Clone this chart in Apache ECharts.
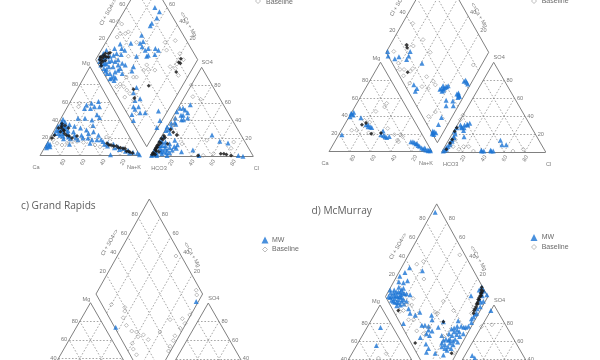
<!DOCTYPE html>
<html><head><meta charset="utf-8">
<style>html,body{margin:0;padding:0;background:#fff}#c{width:600px;height:360px;filter:blur(0.45px)}</style>
<script src="https://cdn.jsdelivr.net/npm/echarts@6/dist/echarts.min.js"></script>
</head><body><div id="c"></div>
<script>
// ---- values: percentages ----
// cation triangle [Na+K %, Mg %], anion triangle [Cl %, SO4 %], diamond [Cl+SO4 %, Ca+Mg %]
const tickValues=[20,40,60,80];
const a_cat_mw=[[18,57],[22,59],[28,61],[24,53],[18,53],[27,55],[32,55],[17,42],[24,42],[32,40],[34,46],[38,43],[3,11],[3.5,13],[1,11],[5,10],[2.5,41],[6,38],[3,36],[1.5,33],[6.5,33],[10,33],[2,29],[8,28],[14,28],[2.5,25],[8.5,23],[5,30],[10,25],[12,35],[18,33],[25,31],[32,29],[40,27],[18,21],[23,23],[30,23],[36,25],[36,34],[47,23],[55,16],[61,14],[67,13],[73,10],[79,8],[85,6],[91,4],[96,3],[99,1],[70,1],[23,13],[29,18],[43,14],[52,18],[58,13],[3,38],[5,35],[8,31],[11,30],[4,28],[6,25],[12,22],[15,25],[20,27],[14,19],[17,23],[21,19],[26,20],[33,20],[38,20],[43,18],[48,18],[62,11],[70,9],[76,7],[83,5],[88,3],[1,14],[2,9]];
const a_cat_base=[[10,59],[11,55],[10,14],[16,12],[20,14],[29,16],[36,15],[49,12],[55,10],[4,18],[1,21],[24,16],[34,33],[56,21],[68,10]];
const a_cat_dense=[[3,31],[4,36],[13,31],[12,25],[2,20],[26,22],[60,14],[71,11],[81,8],[88,4],[7,27],[3,23],[65,12],[76,9],[84,5],[8,34],[5,33],[9,29],[6,31],[10,28],[15,23],[18,22],[22,20],[63,12],[68,11],[74,9],[79,8],[86,5],[91,3]];
const a_an_mw=[[1,1],[6,1],[10,3],[16,1],[1,7],[5,9],[13,7],[18,7],[21,9],[28,5],[9,12],[12,14],[15,18],[1,18],[2,22],[6,26],[0,33],[2,37],[3,43],[1,50],[2,54],[5,54],[10,58],[9,46],[15,43],[10,41],[12,41],[48,24],[59,17],[68,15],[38,7],[47,1],[85,1],[90,0],[3,3],[8,5],[4,12],[7,16],[2,2],[3,5],[5,3],[8,7],[11,5],[14,4],[17,4],[4,16],[2,12],[6,12],[10,9],[1,29],[3,30],[4,33],[5,38],[7,36],[7,46],[12,49],[8,52],[14,10],[18,11],[20,13]];
const a_an_base=[[8,67],[17,64],[0,80],[3,42],[46,18],[73,16],[74,9],[60,3],[51,1],[14,24],[5,35],[24,14]];
const a_an_dense=[[2,3],[3,6],[1,10],[2,13],[1,16],[3,19],[4,2],[6,5],[14,24],[5,30],[46,1],[70,3],[67,3],[73,2],[78,1],[10,14],[1,2],[1,4],[2,7],[1,8],[2,10],[1,12],[3,15],[1,20],[2,23],[4,21],[9,27]];
const a_dia_mw=[[5,97],[11,96],[16,95],[3,95],[7,89],[16,88],[25,88],[33,85],[32,81],[34,77],[44,75],[24,83],[18,80],[19,75],[13,79],[3,87],[3,81],[3,75],[12,74],[19,71],[33,59],[29,58],[42,62],[53,66],[57,64],[53,62],[54,57],[58,55],[59,69],[65,48],[54,51],[61,45],[52,52],[67,44],[18,44],[15,38],[24,44],[21,34],[10,36],[15,31],[10,33],[13,26],[4,33],[18,21],[32,9],[28,2],[21,1],[2,28],[88,72],[90,65],[84,64],[76,66],[73,66],[10,93],[13,90],[8,92],[20,85],[28,78],[22,78],[16,72],[9,83],[6,78],[24,72],[26,68],[18,66],[2,92],[5,90],[3,84],[5,84],[8,87],[12,86],[15,84],[5,74],[8,73],[6,70],[9,70]];
const a_dia_base=[[46,95],[39,91],[44,86],[48,84],[34,92],[44,100],[27,53],[20,60],[12,57],[10,62],[5,64],[13,52],[14,47],[7,50],[14,40],[9,29],[41,47],[46,43],[52,36],[47,47],[75,36],[89,33],[78,42],[86,21],[77,18],[73,17],[72,10],[69,23],[86,14],[50,70],[34,70],[30,50]];
const a_dia_dense=[[12,91],[4,96],[8,94],[16,91],[11,93],[6,92],[81,15],[72,14],[37,33],[20,46],[16,40],[84,17],[80,17],[3,93],[5,94],[7,96],[9,90],[13,94],[18,90],[14,89],[2,91],[10,95],[6,97]];
const b_cat_mw=[[1,42],[3,41],[1,39],[12,38],[3,19],[21,30],[26,28],[28,27],[41,23],[41,19],[46,17],[50,17],[74,11],[78,10],[83,7],[88,4],[91,4],[95,2],[98,1],[81,9],[93,2],[0,43],[2,44],[76,11],[80,9],[85,6],[90,3],[96,1],[97,2],[23,30],[24,28],[44,18],[48,16]];
const b_cat_base=[[23,45],[10,24],[17,35],[23,33],[29,54],[29,50],[15,24],[28,21],[33,20],[54,19],[60,13],[63,17],[44,26],[60,19],[62,11]];
const b_cat_dense=[[17,30],[20,32],[31,20],[40,21]];
const b_an_mw=[[1,1],[3,3],[3,6],[3,10],[3,14],[3,17],[1,23],[1,27],[5,28],[7,30],[11,32],[9,24],[13,17],[3,30],[9,31],[38,1],[47,1],[50,13],[54,8],[58,8],[2,2],[2,5],[4,8],[4,12],[4,16],[3,20],[6,27],[8,27],[10,30],[46,2],[49,1],[37,2],[40,1]];
const b_an_base=[[0,36],[0,41],[6,14],[18,6],[15,3],[23,6],[30,1],[77,3],[68,1],[8,6]];
const b_an_dense=[[1,27],[1,23],[3,14],[3,10],[3,3]];
const b_dia_mw=[[2,99],[0,96],[5,88],[10,85],[24,77],[20,76],[16,76],[29,59],[9,55],[10,50],[7,50],[34,26],[38,23],[42,21],[35,23],[62,7],[62,3],[47,6],[47,4],[32,15],[29,12],[38,8],[36,5],[18,10],[11,9],[1,10],[4,7],[0,10],[36,24],[37,26],[40,22],[33,24],[32,27],[62,5],[60,8],[47,5],[48,7],[46,8],[45,5],[1,8],[3,9],[2,11]];
const b_dia_base=[[42,90],[24,84],[30,77],[43,71],[8,93],[6,82],[4,77],[13,66],[4,70],[26,47],[30,38],[30,34],[16,46],[21,39],[6,60],[43,57],[78,8],[15,19],[6,23],[17,65],[8,73]];
const b_dia_dense=[[24,84],[23,82],[10,68]];
const c_dia_mw=[[90,2],[1,64]];
const c_dia_base=[[95,45],[96,8],[94,5],[9,80],[20,66],[13,62],[12,55],[14,47],[18,42],[17,38],[23,34],[25,27],[8,40],[6,36],[6,30],[40,20],[56,17],[68,6],[77,1],[68,1],[61,3],[52,4],[42,3],[48,3],[38,2],[18,64]];
const d_dia_mw=[[94,97],[39,92],[32,94],[25,97],[50,78],[21,95],[25,90],[30,87],[8,99],[3,97],[10,94],[15,90],[22,87],[8,90],[14,86],[22,81],[25,77],[4,92],[9,84],[16,81],[16,71],[19,61],[25,58],[15,67],[3,68],[35,45],[33,42],[20,49],[23,46],[26,42],[35,32],[43,30],[58,16],[47,18],[52,12],[51,6],[45,9],[56,4],[65,3],[70,2],[80,2],[87,2],[93,2],[100,2],[99,11],[99,7],[84,17],[12,44],[14,35],[14,30],[30,20],[32,16],[38,12],[31,11],[18,21],[10,30],[25,12],[12,95],[18,92],[6,94],[11,90],[19,85],[13,82],[17,88],[6,88],[49,10],[58,10],[38,15],[33,20],[36,8],[34,24],[36,18],[40,14],[42,10],[44,14],[48,14],[50,16],[53,9],[54,14],[42,18],[30,14],[28,18],[34,12],[40,8],[46,5],[60,7],[62,5],[22,36],[24,40],[20,40],[27,36],[4,95],[7,97],[9,92],[12,88],[15,84],[19,88],[5,90],[8,86],[11,86],[13,92],[16,86],[20,83],[6,84],[10,81],[14,78],[18,77],[72,4],[75,3],[78,3],[83,4],[90,4],[95,6],[96,9],[95,12],[90,7]];
const d_dia_base=[[48,87],[56,82],[47,72],[95,50],[26,72],[16,75],[10,75],[15,60],[54,41],[40,43],[59,26],[12,51],[17,43],[35,22],[42,40],[80,8],[75,7],[10,65],[6,78],[21,70],[26,41],[36,3]];
const d_dia_dense=[[99,11],[98,8],[93,8],[85,7],[83,6],[77,5],[89,8],[5,80],[4,46],[34,5],[43,30],[97,10],[96,8],[94,7],[91,8],[90,7],[87,7],[86,6],[81,6],[79,6],[95,9]];
const d_cat_mw=[[13,75],[19,55]];
const d_cat_base=[[33,46],[28,41]];
const d_an_mw=[[0,94],[7,44],[11,41]];
const d_an_base=[[9,78],[0,76]];
const legendNames=['MW','Baseline'];
const panelTitles=['c) Grand Rapids','d) McMurray'];

// ---- layout of each Piper plot, in the hidden axes' units ----
const P={
 a:{cat:[40,155.7,100,89],an:[150,156.3,103.3,89],dia:[146.7,146.7,51,87]},
 b:{cat:[329,151.7,103,89.5],an:[441.7,152,104,89.7],dia:[437.4,142.7,51.3,90.4]},
 c:{cat:[37,395.7,107,93],an:[154.8,396,107,93],dia:[149.3,389,53.3,95]},
 d:{cat:[328,395,104,90],an:[442,395,104,90],dia:[436.7,389.3,51.2,92.7]}
};
const triXY=(g,p)=>[g[0]+g[2]*(p[0]+p[1]/2)/100,g[1]-g[3]*p[1]/100];
const diaXY=(g,p)=>[g[0]+g[2]*(p[0]-p[1])/100,g[1]-g[3]*(p[0]+p[1])/100];
const seg=(m,s,e)=>({coords:[m(s),m(e)]});
const solid=[],dashed=[],texts=[];
const T=(x,y,s,o)=>texts.push(Object.assign({value:[x,y],t:s},o||{}));
Object.values(P).forEach(p=>{
 [p.cat,p.an].forEach(g=>{
  const m=v=>triXY(g,v);
  solid.push(seg(m,[0,0],[100,0]),seg(m,[100,0],[0,100]),seg(m,[0,100],[0,0]));
  tickValues.forEach(v=>{dashed.push(seg(m,[0,v],[100-v,v]),seg(m,[v,0],[v,100-v]),seg(m,[v,0],[0,v]));});
 });
 const m=v=>diaXY(p.dia,v);
 solid.push(seg(m,[0,0],[100,0]),seg(m,[100,0],[100,100]),seg(m,[100,100],[0,100]),seg(m,[0,100],[0,0]));
 tickValues.forEach(v=>{dashed.push(seg(m,[v,0],[v,100]),seg(m,[0,v],[100,v]));});
 tickValues.forEach(v=>{
  let q=triXY(p.cat,[0,v]);T(q[0]-5,q[1],String(v));
  q=triXY(p.cat,[v,0]);T(q[0]+3,q[1]+6.5,String(100-v),{rot:60});
  q=triXY(p.an,[100-v,v]);T(q[0]+5.5,q[1],String(v));
  q=triXY(p.an,[v,0]);T(q[0]+0.5,q[1]+6.5,String(v),{rot:60});
  q=diaXY(p.dia,[v,100]);T(q[0]-4,q[1]-3.5,String(v));
  q=diaXY(p.dia,[100,v]);T(q[0]+5,q[1]-3.5,String(v));
 });
 let c=p.cat,n=p.an;
 T(c[0]-4,c[1]+12,'Ca');T(c[0]+c[2]-6,c[1]+12,'Na+K');
 T(n[0]+9,n[1]+12,'HCO3');T(n[0]+n[2]+3,n[1]+12,'Cl');
 let q=triXY(c,[0,100]);T(q[0]-4,q[1]-3.5,'Mg');
 q=triXY(n,[0,100]);T(q[0]+5.5,q[1]-4.5,'SO4');
 q=diaXY(p.dia,[50,100]);T(q[0]-13,q[1]-4,'Cl + SO4=>',{rot:60});
 q=diaXY(p.dia,[100,50]);T(q[0]+16,q[1]+8,'<=Ca + Mg',{rot:-60});
});
T(21,206,panelTitles[0],{size:10.2,color:'#333',align:'left',font:'"Open Sans"'});
T(311.5,211.5,panelTitles[1],{size:10.2,color:'#333',align:'left',font:'"Open Sans"'});
[[266,2],[541.7,1.5]].forEach(l=>T(l[0],l[1],legendNames[1],{size:7,color:'#444',align:'left'}));
[[272,240],[541.7,237.5]].forEach(l=>T(l[0],l[1],legendNames[0],{size:7,color:'#444',align:'left'}));
[[272,249.5],[541.7,247]].forEach(l=>T(l[0],l[1],legendNames[1],{size:7,color:'#444',align:'left'}));

const MW={symbol:'triangle',symbolSize:5,itemStyle:{color:'#1b74d4'}};
const BASE={symbol:'diamond',symbolSize:4,itemStyle:{color:'rgba(255,255,255,0)',borderColor:'#888',borderWidth:0.7}};
const DENSE={symbol:'diamond',symbolSize:4,itemStyle:{color:'#1a1a1a',opacity:0.85}};
const scat=(data,st,z)=>Object.assign({type:'scatter',data:data,z:z,silent:true,animation:false},st);
const series=[
 {type:'lines',coordinateSystem:'cartesian2d',data:dashed,z:1,silent:true,animation:false,lineStyle:{color:'#8a8a8a',width:0.75,type:[1.6,1.8],opacity:1}},
 {type:'lines',coordinateSystem:'cartesian2d',data:solid,z:2,silent:true,animation:false,lineStyle:{color:'#808080',width:1,opacity:1}}
];
const add=(g,f,mw,base,dense)=>{
 series.push(scat(mw.map(v=>f(g,v)),MW,3),scat(base.map(v=>f(g,v)),BASE,4),scat(dense.map(v=>f(g,v)),DENSE,5));
};
add(P.a.cat,triXY,a_cat_mw,a_cat_base,a_cat_dense);
add(P.a.an,triXY,a_an_mw,a_an_base,a_an_dense);
add(P.a.dia,diaXY,a_dia_mw,a_dia_base,a_dia_dense);
add(P.b.cat,triXY,b_cat_mw,b_cat_base,b_cat_dense);
add(P.b.an,triXY,b_an_mw,b_an_base,b_an_dense);
add(P.b.dia,diaXY,b_dia_mw,b_dia_base,b_dia_dense);
add(P.c.dia,diaXY,c_dia_mw,c_dia_base,[]);
add(P.d.dia,diaXY,d_dia_mw,d_dia_base,d_dia_dense);
add(P.d.cat,triXY,d_cat_mw,d_cat_base,[]);
add(P.d.an,triXY,d_an_mw,d_an_base,[]);
series.push(scat([[258,1],[534,1],[265,249.5],[534,247]],Object.assign({},BASE,{symbolSize:5}),6));
series.push(scat([[265,240],[534,237.5]],Object.assign({},MW,{symbolSize:7}),6));
series.push({type:'scatter',z:7,silent:true,animation:false,symbolSize:0,
 data:texts.map(t=>({value:t.value,label:{show:true,formatter:t.t,position:'inside',
   rotate:t.rot||0,align:t.align||'center',verticalAlign:'middle',
   fontSize:t.size||5.6,color:t.color||'#555',fontFamily:t.font||'"Liberation Sans"'}}))});

const chart=echarts.init(document.getElementById('c'),null,{renderer:'canvas'});
chart.setOption({animation:false,backgroundColor:'#fff',
 grid:{left:0,right:0,top:0,bottom:0},
 xAxis:{type:'value',min:0,max:600,show:false},
 yAxis:{type:'value',min:0,max:360,inverse:true,show:false},
 series:series});
</script></body></html>
